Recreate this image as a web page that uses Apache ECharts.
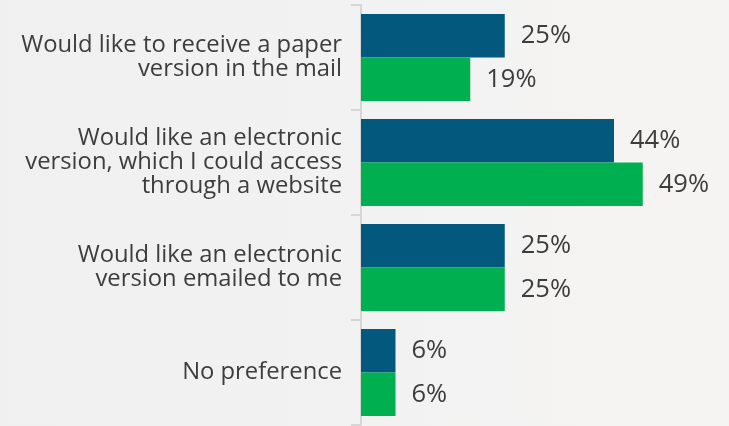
<!DOCTYPE html>
<html>
<head>
<meta charset="utf-8">
<script src="https://cdn.jsdelivr.net/npm/echarts@6/dist/echarts.min.js"></script>
<style>
  html, body { margin: 0; padding: 0; }
  body { background: linear-gradient(90deg, #f0f0f0 0%, #f2f2f2 50%, #f6f4f3 100%); }
  #chart { width: 729px; height: 426px; }
</style>
</head>
<body>
<div id="chart"></div>
<script>
// Survey: preferred format for receiving the report
const categories = [
  'Would like to receive a paper\nversion in the mail',
  'Would like an electronic\nversion, which I could access\nthrough a website',
  'Would like an electronic\nversion emailed to me',
  'No preference'
];
const seriesA = [25, 44, 25, 6];
const seriesB = [19, 49, 25, 6];

const textColor = '#3d3d3d';
const font = '"Open Sans", "Noto Sans", sans-serif';

const chart = echarts.init(document.getElementById('chart'), null, { renderer: 'canvas' });

const valueLabel = {
  show: true,
  position: 'right',
  distance: 16,
  formatter: '{c}%',
  color: textColor,
  fontSize: 25.5,
  fontFamily: font
};

chart.setOption({
  backgroundColor: 'transparent',
  animation: false,
  grid: { left: 361, top: 5, bottom: 1, width: 345 },
  xAxis: {
    type: 'value',
    min: 0,
    max: 60,
    show: false
  },
  yAxis: {
    type: 'category',
    inverse: true,
    data: categories,
    axisLine: { show: true, lineStyle: { color: '#d6d6d6', width: 2 } },
    axisTick: { show: true, length: 10, lineStyle: { color: '#d6d6d6', width: 2 } },
    axisLabel: {
      color: textColor,
      fontSize: 23.8,
      lineHeight: 24,
      fontFamily: font,
      margin: 19,
      align: 'right'
    },
    splitLine: { show: false }
  },
  series: [
    {
      type: 'bar',
      data: seriesA,
      itemStyle: { color: '#02587d' },
      barGap: '0%',
      barCategoryGap: '17%',
      label: valueLabel
    },
    {
      type: 'bar',
      data: seriesB,
      itemStyle: { color: '#00b050' },
      label: valueLabel
    }
  ]
});
</script>
</body>
</html>
